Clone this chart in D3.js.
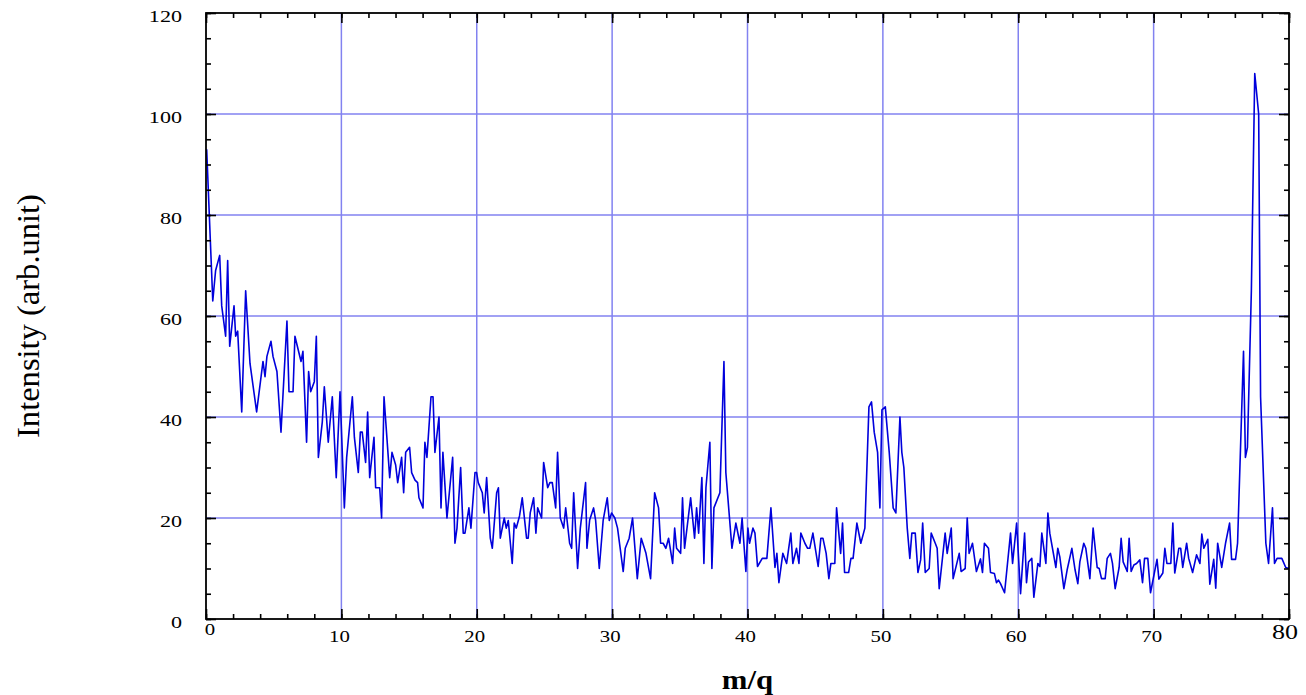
<!DOCTYPE html>
<html>
<head>
<meta charset="utf-8">
<script src="https://cdn.jsdelivr.net/npm/d3@7"></script>
<style>
  body { margin: 0; background: #fff; }
  svg { display: block; }
  text { font-family: "Liberation Serif", "Times New Roman", serif; fill: #000; }
</style>
</head>
<body>
<div id="chart"></div>
<script>
// spectrum vertices: m/q and intensity
var mq = [
  0.05,0.5,0.71,1.01,1.16,1.45,1.6,1.75,2.07,2.19,2.34,2.64,2.93,3.25,3.74,4.21,4.36,4.5,4.8,4.95,
  5.24,5.54,5.98,6.13,6.43,6.57,7.02,7.16,7.43,7.58,7.73,8.0,8.15,8.3,8.59,8.74,9.03,9.33,9.62,9.9,
  10.22,10.39,10.81,10.96,11.25,11.4,11.54,11.79,11.94,12.09,12.41,12.53,12.83,12.97,13.15,13.57,13.74,14.01,14.16,14.45,
  14.6,14.75,15.04,15.19,15.44,15.63,15.73,16.03,16.17,16.32,16.62,16.77,16.91,17.21,17.36,17.5,17.8,18.22,18.39,18.54,
  18.81,19.0,19.13,19.42,19.57,19.87,19.99,
  20.11,20.41,20.55,20.73,21.0,21.15,21.47,21.6,21.74,22.03,22.18,22.33,22.62,22.77,22.92,23.16,23.36,23.68,23.8,23.95,
  24.2,24.37,24.5,24.79,24.94,25.24,25.4,25.58,25.83,25.97,26.17,26.42,26.57,26.86,27.01,27.16,27.45,27.65,28.04,28.14,
  28.34,28.63,28.78,29.05,29.34,29.64,29.79,29.96,30.2,
  30.4,30.82,30.97,31.26,31.51,31.86,32.15,32.5,32.84,33.14,33.43,33.58,33.77,33.97,34.17,34.47,34.62,34.76,35.06,35.2,
  35.35,35.8,36.09,36.24,36.39,36.63,36.78,36.93,37.22,37.37,37.52,37.96,38.26,38.4,38.85,39.14,39.44,39.6,39.88,40.03,
  40.15,40.4,40.55,40.74,41.09,41.43,41.73,42.03,42.17,42.32,42.61,42.89,43.2,43.35,43.62,43.8,43.94,44.24,44.44,44.6,
  44.83,45.22,45.42,45.57,45.81,46.01,46.16,46.45,46.58,46.88,47.02,47.17,47.47,47.64,47.8,48.08,48.37,48.67,48.97,49.16,
  49.36,49.61,49.78,49.93,50.18,
  50.47,50.76,50.96,51.26,51.4,51.55,51.8,51.99,52.14,52.39,52.59,52.79,52.94,53.13,53.42,53.57,53.87,54.01,54.16,54.6,
  54.75,55.05,55.19,55.64,55.78,56.08,56.23,56.37,56.62,56.91,57.21,57.36,57.5,57.8,57.95,58.24,58.39,58.54,58.69,58.99,
  59.43,59.58,59.88,
  60.17,60.47,60.61,60.76,61.0,61.15,61.45,61.6,61.74,62.04,62.19,62.33,62.78,62.92,63.07,63.37,63.61,63.96,64.2,64.4,
  64.55,64.84,64.99,65.29,65.53,65.83,65.98,66.15,66.42,66.57,66.81,66.96,67.16,67.45,67.6,67.75,68.05,68.19,68.34,68.54,
  68.74,68.98,69.18,69.33,69.57,69.77,
  70.25,70.39,70.68,70.83,70.98,71.27,71.42,71.56,71.86,72.0,72.15,72.44,72.59,72.88,73.17,73.42,73.56,73.71,74.0,74.15,
  74.44,74.59,74.73,75.03,75.32,75.61,75.76,76.05,76.2,76.64,76.78,76.93,77.22,77.47,77.76,77.9,78.29,78.49,78.78,78.93,
  79.12,79.47,79.76,80
];
var intensity = [
  93,63,69,72,62,56,71,54,62,56,57,41,65,50.6,41,51,48,52,55,52,
  49,37,59,45,45,56,51,53,35,49,45,47,56,32,39,46,35,44,28,45,
  22,32,44,36,29,37,37,31,41,28,36,26,26,20,44,28,33,30.5,27,32,
  25,33,34,29,27.5,27,24,22,35,32,44,44,33,40,22,33,20,32,15,18,
  30,17,17,22,18,29,29,
  27,25,21,28,16,14,25,26,16,20,18,19.5,11,19,18,20.4,24,16,16,21,
  24,17,22,20,31,26,27,27,22,33,20,18,22,15,14,25,10,18,27,14,
  19.6,22,19.6,10,19.6,24,19.5,21,20,
  18,9.4,14,16,20,8,16,13,8,25,22,15,15,14,16,11,18,14,13,24,
  14,24,16,22,17,28,11,26,35,10,22,25,51,29,14,19,15,20,9.4,18,
  15,18,17,10.4,12,12,22,10.2,13,7.2,13,11,17,11,14,11,17,15,14,14,
  17,10.4,16,16,13,8,11,11,22,13,19,9.2,9.2,12,12,19,15,18,42,43,
  37,33,22,41.4,42,
  33,22,21,40,33,30,18,12,17,17,9.2,11.7,19,9.2,10,17,15,14,6,17,
  13,18,8,13,9.4,10,20,13,15,9.4,11.9,9.2,15,14,9.2,9,7.2,7.7,7,5.2,
  17,11,19,
  5,17,7.2,11.3,12,4.3,11,10.4,17,11,21,17,10.2,14,12.3,6,9.7,14,9.7,7,
  11.3,15,14,8,18,10.2,10,8,8,12,13,11,6,10.2,16,11.3,9.4,16,9.4,10.7,
  11,11.7,7.2,12,12,5.2,
  11.8,7.9,9.1,14,11,11,19,9.1,14,14,10.2,15,12,9.2,12.7,11,16.8,14,15.8,6.9,
  11.8,6.1,15,10.2,15.1,19,11.8,11.8,15,53,32,34,65,108,100,44,15,11,22,11,
  12,12,10.2,10
];
var xTicks = [0, 10, 20, 30, 40, 50, 60, 70, 80];
var yTicks = [0, 20, 40, 60, 80, 100, 120];
var xMinor = d3.range(0, 81, 2);
var yMinor = d3.range(0, 121, 5);

function init() {
  var W = 1306, H = 695;
  var pLeft = 206, pRight = 1289, pTop = 13, pBottom = 619;

  var svg = d3.select("#chart").append("svg")
      .attr("width", W)
      .attr("height", H);

  var x = d3.scaleLinear().domain([0, 80]).range([pLeft, pRight]);
  var y = d3.scaleLinear().domain([0, 120]).range([pBottom, pTop]);

  var gridColor = "#8282f0";

  // grid
  svg.append("g").selectAll("line")
      .data(xTicks.slice(1, -1))
      .enter().append("line")
      .attr("x1", function(d) { return x(d); })
      .attr("x2", function(d) { return x(d); })
      .attr("y1", pTop).attr("y2", pBottom)
      .attr("stroke", gridColor).attr("stroke-width", 1.5);
  svg.append("g").selectAll("line")
      .data(yTicks.slice(1, -1))
      .enter().append("line")
      .attr("y1", function(d) { return y(d); })
      .attr("y2", function(d) { return y(d); })
      .attr("x1", pLeft).attr("x2", pRight)
      .attr("stroke", gridColor).attr("stroke-width", 1.5);

  // spectrum line
  var pts = mq.map(function(d, i) { return [d, intensity[i]]; });
  var line = d3.line()
      .x(function(d) { return x(d[0]); })
      .y(function(d) { return y(d[1]); });
  svg.append("path")
      .datum(pts)
      .attr("d", line)
      .attr("fill", "none")
      .attr("stroke", "#0000dc")
      .attr("stroke-width", 1.6)
      .attr("stroke-linejoin", "round");

  // ticks, all four sides pointing inward (labels drawn separately)
  function ticks(axis, vals, size, tr) {
    var g = svg.append("g")
        .attr("transform", tr)
        .call(axis.tickValues(vals).tickSize(size).tickFormat(""));
    g.select(".domain").remove();
    g.selectAll(".tick line").attr("stroke", "#000").attr("stroke-width", 1.6);
  }
  ticks(d3.axisBottom(x), xMinor, -5, "translate(0," + pBottom + ")");
  ticks(d3.axisBottom(x), xTicks, -10, "translate(0," + pBottom + ")");
  ticks(d3.axisTop(x), xMinor, -5, "translate(0," + pTop + ")");
  ticks(d3.axisTop(x), xTicks, -10, "translate(0," + pTop + ")");
  ticks(d3.axisLeft(y), yMinor, -5, "translate(" + pLeft + ",0)");
  ticks(d3.axisLeft(y), yTicks, -10, "translate(" + pLeft + ",0)");
  ticks(d3.axisRight(y), yMinor, -5, "translate(" + pRight + ",0)");
  ticks(d3.axisRight(y), yTicks, -10, "translate(" + pRight + ",0)");

  // frame
  svg.append("rect")
      .attr("x", pLeft).attr("y", pTop)
      .attr("width", pRight - pLeft).attr("height", pBottom - pTop)
      .attr("fill", "none").attr("stroke", "#000").attr("stroke-width", 1.8);

  // tick labels (the original font is drawn wide, hence the scale)
  var stretch = 1.3;
  svg.append("g").selectAll("text")
      .data(yTicks)
      .enter().append("text")
      .attr("transform", function(d) { return "translate(182," + (y(d) + 3) + ") scale(" + stretch + ",1)"; })
      .attr("text-anchor", "end")
      .attr("dominant-baseline", "central")
      .style("font-size", "17px")
      .text(function(d) { return d; });

  svg.append("g").selectAll("text")
      .data(xTicks)
      .enter().append("text")
      .attr("transform", function(d, i) {
        var dx = -2, yy = 636;
        if (i == 0) { dx = 4; yy = 629; }
        if (i == xTicks.length - 1) { dx = -4; yy = 632; }
        return "translate(" + (x(d) + dx) + "," + yy + ") scale(" + stretch + ",1)";
      })
      .attr("text-anchor", "middle")
      .attr("dominant-baseline", "central")
      .style("font-size", function(d, i) { return i == xTicks.length - 1 ? "20px" : "16px"; })
      .text(function(d) { return d; });

  // axis titles
  svg.append("text")
      .attr("transform", "translate(" + (pLeft + pRight) / 2 + ",679) scale(1.1,1)")
      .attr("text-anchor", "middle")
      .attr("dominant-baseline", "central")
      .style("font-size", "28px")
      .style("font-weight", "bold")
      .text("m/q");

  svg.append("text")
      .attr("transform", "translate(29," + (pTop + pBottom) / 2 + ") rotate(-90) scale(1.05,1)")
      .attr("text-anchor", "middle")
      .attr("dominant-baseline", "central")
      .style("font-size", "31px")
      .text("Intensity (arb.unit)");
}
init();
</script>
</body>
</html>
